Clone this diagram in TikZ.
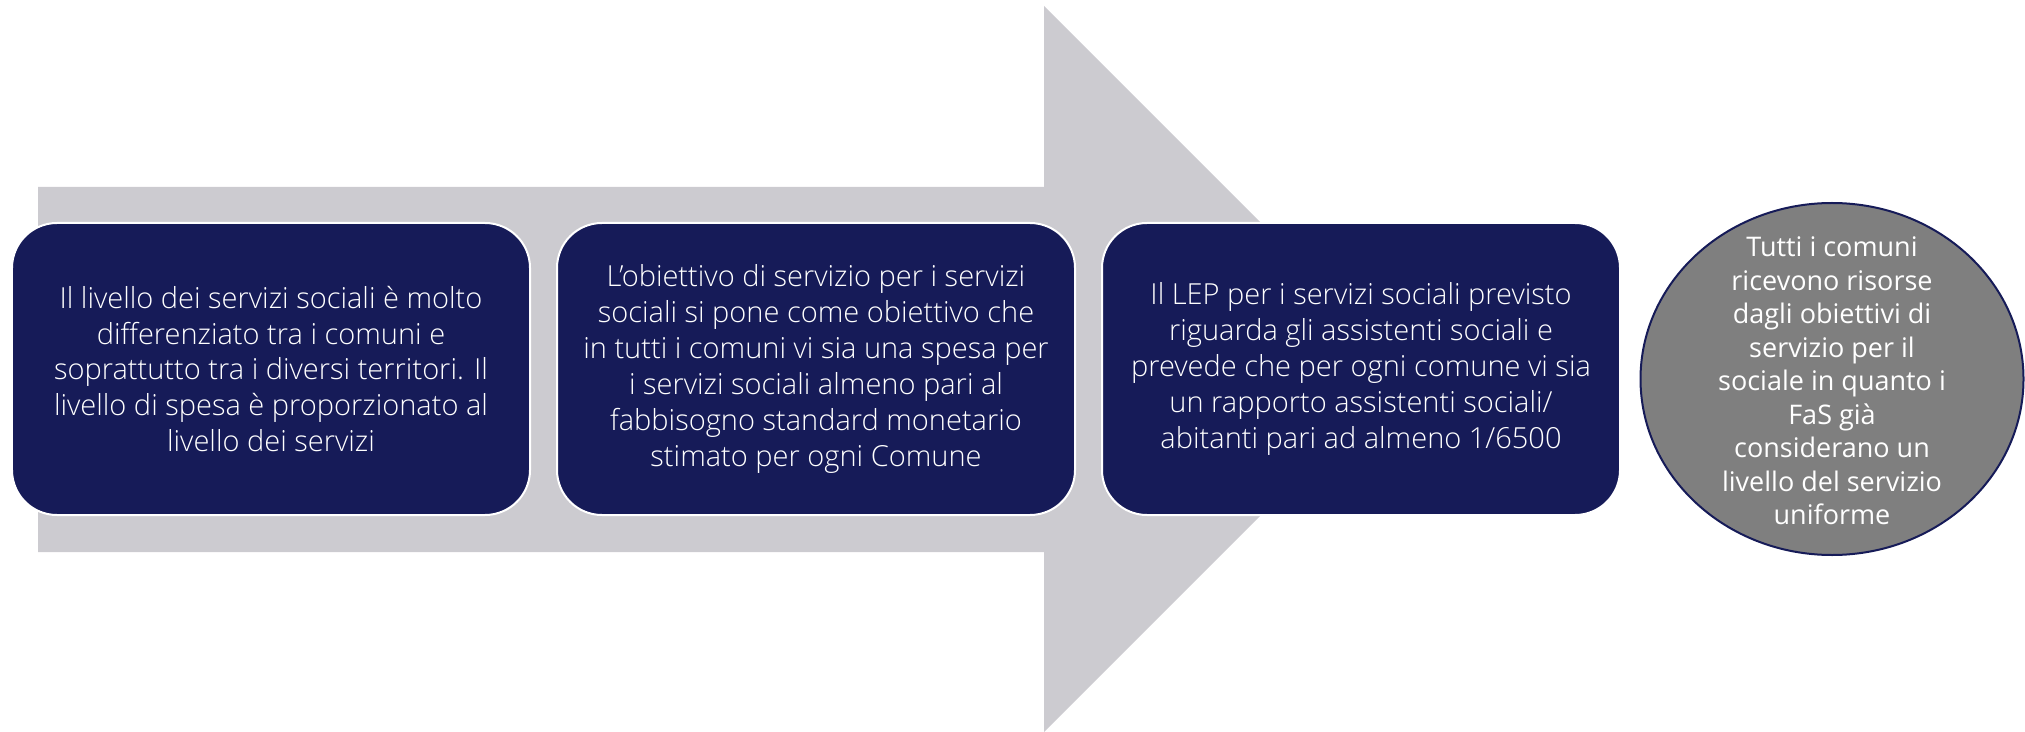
\documentclass[tikz,border=0pt]{standalone}
\usepackage{fontspec}
\setmainfont{Open Sans}
\IfFontExistsTF{Open Sans Light}{\newfontfamily\boxfont{Open Sans Light}}{\newfontfamily\boxfont{Open Sans}}
\newfontfamily\ellfont{Open Sans}
\usetikzlibrary{shapes.geometric}
\definecolor{navy}{RGB}{22,27,88}
\definecolor{arrowgray}{RGB}{204,203,208}
\definecolor{ellgray}{RGB}{127,127,127}
\tikzset{
  stepbox/.style={draw=white, line width=0.8pt, fill=navy, rounded corners=18pt,
    minimum width=207.2pt, minimum height=116.8pt, inner sep=0pt, align=center,
    text=white, font=\boxfont\fontsize{11.6pt}{14.35pt}\selectfont},
  endell/.style={ellipse, draw=navy, line width=0.8pt, fill=ellgray,
    minimum width=153.2pt, minimum height=140.8pt, inner sep=0pt},
  elltext/.style={inner sep=0pt, align=center, text=white,
    font=\ellfont\fontsize{10.8pt}{13.4pt}\selectfont}
}
\begin{document}
\begin{tikzpicture}[x=0.4pt,y=-0.4pt]
\useasboundingbox (0,0) rectangle (2025,732);
% big arrow
\fill[arrowgray] (38,187) -- (1044,187) -- (1044,6) -- (1407,369) -- (1044,732)
  -- (1044,552) -- (38,552) -- cycle;
\node[stepbox] (b1) at (271,369) {Il livello dei servizi sociali è molto\\differenziato tra i comuni e\\soprattutto tra i diversi territori. Il\\livello di spesa è proporzionato al\\livello dei servizi};
\node[stepbox] (b2) at (816,369) {L’obiettivo di servizio per i servizi\\sociali si pone come obiettivo che\\in tutti i comuni vi sia una spesa per\\i servizi sociali almeno pari al\\fabbisogno standard monetario\\stimato per ogni Comune};
\node[stepbox] (b3) at (1361,369) {Il LEP per i servizi sociali previsto\\riguarda gli assistenti sociali e\\prevede che per ogni comune vi sia\\un rapporto assistenti sociali/\\abitanti pari ad almeno 1/6500};
\node[endell] (e) at (1832,379) {};
\node[elltext] (et) at (1832,381) {Tutti i comuni\\ricevono risorse\\dagli obiettivi di\\servizio per il\\sociale in quanto i\\FaS già\\considerano un\\livello del servizio\\uniforme};
\end{tikzpicture}
\end{document}
